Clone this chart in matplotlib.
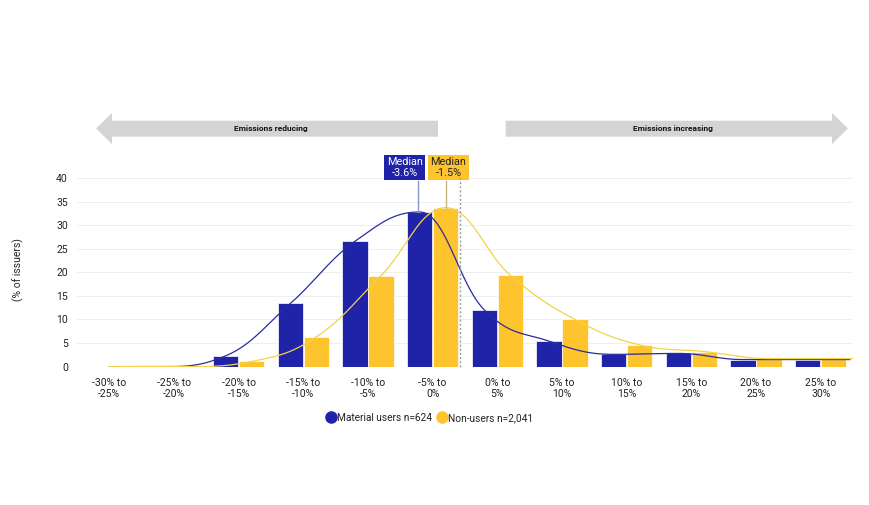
import numpy as np
import matplotlib
matplotlib.use("Agg")
import matplotlib.pyplot as plt
from matplotlib.patches import Polygon
from matplotlib.lines import Line2D

plt.rcParams['font.family'] = ['Roboto', 'DejaVu Sans']

categories = ['-30% to\n-25%', '-25% to\n-20%', '-20% to\n-15%', '-15% to\n-10%',
              '-10% to\n-5%', '-5% to\n0%', '0% to\n5%', '5% to\n10%',
              '10% to\n15%', '15% to\n20%', '20% to\n25%', '25% to\n30%']
material_users = [0, 0, 2.3, 13.4, 26.6, 32.8, 12.0, 5.4, 2.6, 2.8, 1.5, 1.5]
non_users = [0, 0, 1.1, 6.3, 19.3, 33.7, 19.4, 10.0, 4.6, 3.2, 1.7, 1.7]
median_material = -3.6
median_non = -1.5

BLUE = '#1f23a8'
YELLOW = '#fdc42e'


def spline_path(xs, ys, smoothing=1.5, steps=40):
    # cubic bezier spline through the points, flat at local peaks
    xs = list(map(float, xs))
    ys = list(map(float, ys))
    n = len(xs)
    lc = [(xs[i], ys[i]) for i in range(n)]
    rc = [(xs[i], ys[i]) for i in range(n)]
    den = smoothing + 1
    for i in range(1, n - 1):
        px, py = xs[i], ys[i]
        lx, ly = xs[i - 1], ys[i - 1]
        nx, ny = xs[i + 1], ys[i + 1]
        lcx = (smoothing * px + lx) / den
        lcy = (smoothing * py + ly) / den
        rcx = (smoothing * px + nx) / den
        rcy = (smoothing * py + ny) / den
        corr = 0
        if rcx != lcx:
            corr = (rcy - lcy) * (rcx - px) / (rcx - lcx) + py - rcy
        lcy += corr
        rcy += corr
        if lcy > ly and lcy > py:
            lcy = max(ly, py)
            rcy = 2 * py - lcy
        elif lcy < ly and lcy < py:
            lcy = min(ly, py)
            rcy = 2 * py - lcy
        if rcy > ny and rcy > py:
            rcy = max(ny, py)
            lcy = 2 * py - rcy
        elif rcy < ny and rcy < py:
            rcy = min(ny, py)
            lcy = 2 * py - rcy
        lc[i] = (lcx, lcy)
        rc[i] = (rcx, rcy)
    t = np.linspace(0, 1, steps)[:, None]
    out = []
    for i in range(1, n):
        p0 = np.array([xs[i - 1], ys[i - 1]])
        p1 = np.array(rc[i - 1])
        p2 = np.array(lc[i])
        p3 = np.array([xs[i], ys[i]])
        seg = ((1 - t) ** 3) * p0 + 3 * ((1 - t) ** 2) * t * p1 + 3 * (1 - t) * t ** 2 * p2 + t ** 3 * p3
        out.append(seg)
    out = np.vstack(out)
    return out[:, 0], out[:, 1]


def pct_to_x(p):
    # position on the category axis for a percentage value
    return (p + 30) / 5 - 0.5


fig = plt.figure(figsize=(8.7, 5.05), dpi=100)
ax = fig.add_axes([0.0885, 0.274, 0.892, 0.3735])

x = np.arange(len(categories))
w = 0.39
off = 0.2
ax.bar(x - off, material_users, w, color=BLUE, edgecolor='white', linewidth=0.5, zorder=2)
ax.bar(x + off, non_users, w, color=YELLOW, edgecolor='white', linewidth=0.5, zorder=2)

# smooth lines through bar tops (ends stretched to the plot edges)
xb = (x - off).astype(float)
xb[0], xb[-1] = 0, 11.45
lx, ly = spline_path(xb, material_users)
ax.plot(lx, ly, color='#2a2d9c', lw=0.9, zorder=3)
xy = (x + off).astype(float)
xy[0], xy[-1] = 0, 11.5
lx, ly = spline_path(xy, non_users)
ax.plot(lx, ly, color='#f3d24a', lw=0.9, zorder=3)

# zero line (dotted)
ax.plot([5.42, 5.42], [0, 40], color='#9a9a9a', lw=1, ls=(0, (1.5, 1.5)), zorder=4, clip_on=False)

# median markers
mx1 = pct_to_x(median_material)
mx2 = pct_to_x(median_non)
ax.plot([mx1, mx1], [material_users[5], 39.4], color='#8d92c8', lw=1, zorder=4, clip_on=False)
ax.plot([mx2, mx2], [non_users[5], 39.4], color='#cbb37e', lw=1, zorder=4, clip_on=False)
ax.annotate('Median\n%.1f%%' % median_material, (mx1, 42.2), xytext=(-10, 0),
            textcoords='offset points', ha='center', va='center', fontsize=7.8,
            color='white', linespacing=1.1, annotation_clip=False,
            bbox=dict(boxstyle='square,pad=0.22', fc=BLUE, ec='none'))
ax.annotate('Median\n%.1f%%' % median_non, (mx2, 42.2), xytext=(2, 0),
            textcoords='offset points', ha='center', va='center', fontsize=7.8,
            color='#222222', linespacing=1.1, annotation_clip=False,
            bbox=dict(boxstyle='square,pad=0.22', fc=YELLOW, ec='none'))

ax.set_xlim(-0.5, 11.5)
ax.set_ylim(0, 40)
ax.set_yticks(range(0, 41, 5))
ax.set_xticks(x)
ax.set_xticklabels(categories)
ax.tick_params(length=0, labelsize=7.5, labelcolor='#222222')
ax.tick_params(axis='x', pad=8)
ax.tick_params(axis='y', pad=6.5)
ax.grid(axis='y', color='#ededed', lw=0.6, zorder=0)
ax.set_axisbelow(True)
for s in ax.spines.values():
    s.set_visible(False)

fig.text(18 / 870, 1 - 270 / 505, '(% of issuers)', rotation=90, ha='center', va='center',
         fontsize=7.5, color='#222222')


# direction arrows at the top
def arrow(x0, x1, direction):
    W, H = 870, 505
    ys, ye = 120.7, 136.7
    hs, he = 113, 144
    hl = 16
    if direction < 0:
        pts = [(x0, (hs + he) / 2), (x0 + hl, hs), (x0 + hl, ys), (x1, ys), (x1, ye), (x0 + hl, ye), (x0 + hl, he)]
    else:
        pts = [(x1, (hs + he) / 2), (x1 - hl, he), (x1 - hl, ye), (x0, ye), (x0, ys), (x1 - hl, ys), (x1 - hl, hs)]
    pts = [(px / W, 1 - py / H) for px, py in pts]
    fig.patches.append(Polygon(pts, closed=True, fc='#d4d4d4', ec='none', transform=fig.transFigure))


arrow(96, 438, -1)
arrow(505.7, 848, 1)
fig.text(271 / 870, 1 - 129 / 505, 'Emissions reducing', ha='center', va='center',
         fontsize=6, fontweight='bold', color='#111111')
fig.text(673 / 870, 1 - 129 / 505, 'Emissions increasing', ha='center', va='center',
         fontsize=6, fontweight='bold', color='#111111')

handles = [Line2D([], [], ls='none', marker='o', ms=8, color=BLUE),
           Line2D([], [], ls='none', marker='o', ms=8, color=YELLOW)]
fig.legend(handles, ['Material users n=624', 'Non-users n=2,041'], loc='center',
           bbox_to_anchor=(429 / 870, 1 - 418 / 505), ncol=2, frameon=False,
           fontsize=7.3, handletextpad=0.0, columnspacing=0.4, handlelength=1.2,
           labelcolor='#222222')

fig.savefig('out.png', dpi=100)
